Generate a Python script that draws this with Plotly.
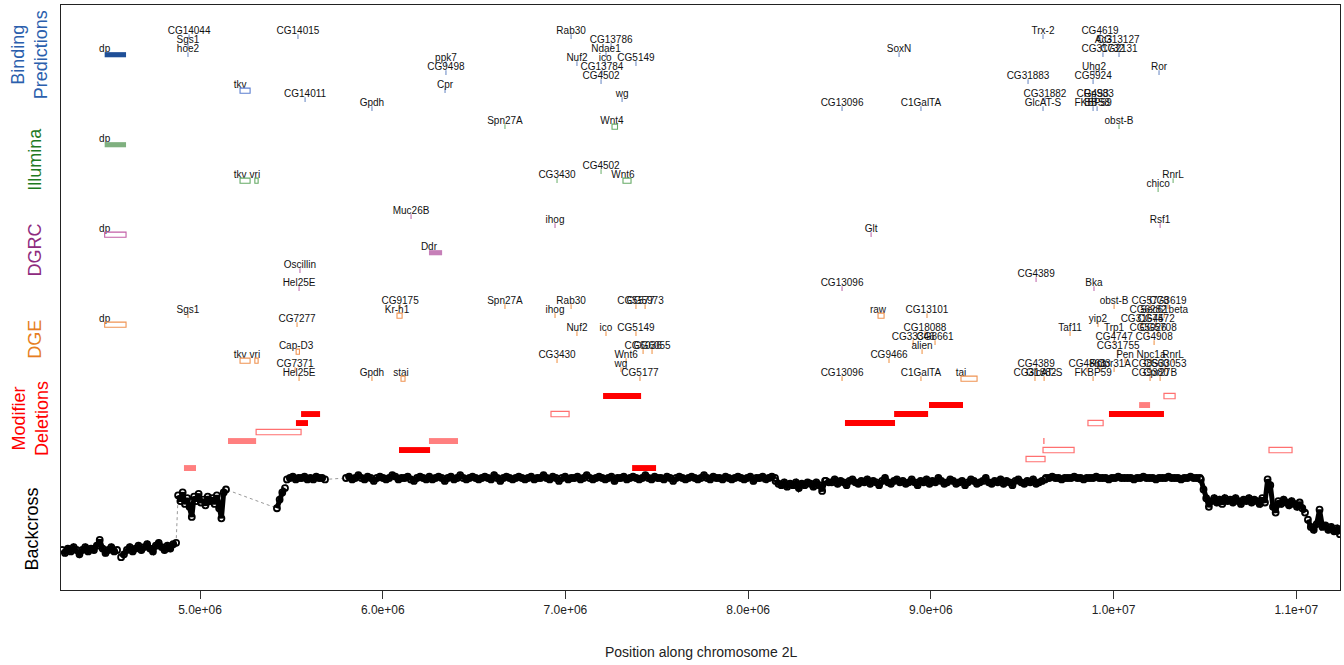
import numpy as np
import plotly.graph_objects as go

# ---------------- Binding Predictions (positions in Mb, row = label line) ----------------
bind_genes = ["dp", "CG14044", "Sgs1", "hoe2", "CG14015", "tkv", "CG14011", "Gpdh", "ppk7", "CG9498",
              "Cpr", "Rab30", "CG13786", "Ndae1", "Nuf2", "ico", "CG5149", "CG13784", "CG4502", "wg",
              "SoxN", "CG13096", "C1GalTA", "Trx-2", "CG4619", "Ac3", "CG13127", "CG31732", "CG2131",
              "Uhg2", "Ror", "CG31883", "CG5924", "CG31882", "CG4983", "RpS3", "GlcAT-S", "FKBP59", "BBS8"]
bind_start = [4.478, 4.940, 4.934, 4.934, 5.536, 5.219, 5.575, 5.941, 6.346, 6.346,
              6.341, 7.031, 7.250, 7.222, 7.063, 7.217, 7.386, 7.200, 7.195, 7.310,
              8.826, 8.514, 8.946, 9.614, 9.926, 9.945, 10.025, 9.942, 10.030,
              9.893, 10.249, 9.532, 9.888, 9.625, 9.899, 9.905, 9.614, 9.888, 9.910]
bind_end = [4.595, 4.940, 4.934, 4.934, 5.536, 5.274, 5.575, 5.941, 6.346, 6.346,
            6.341, 7.031, 7.250, 7.222, 7.063, 7.217, 7.386, 7.200, 7.195, 7.310,
            8.826, 8.514, 8.946, 9.614, 9.926, 9.945, 10.025, 9.942, 10.030,
            9.893, 10.249, 9.532, 9.888, 9.625, 9.899, 9.905, 9.614, 9.888, 9.910]
bind_row = [2, 0, 1, 2, 0, 6, 7, 8, 3, 4,
            6, 0, 1, 2, 3, 3, 3, 4, 5, 7,
            2, 8, 8, 0, 0, 1, 1, 2, 2,
            4, 4, 5, 5, 7, 7, 7, 8, 8, 8]
bind_style = ["f", "t", "t", "t", "t", "o", "t", "t", "t", "t",
              "t", "t", "t", "t", "t", "t", "t", "t", "t", "t",
              "t", "t", "t", "t", "t", "t", "t", "t", "t",
              "t", "t", "t", "t", "t", "t", "t", "t", "t", "t"]

# ---------------- Illumina ----------------
ill_genes = ["Spn27A", "Wnt4", "obst-B", "dp", "CG4502", "CG3430", "Wnt6", "tkv", "vri", "RnrL", "chico"]
ill_start = [6.669, 7.255, 10.030, 4.478, 7.195, 6.954, 7.315, 5.219, 5.300, 10.326, 10.244]
ill_end = [6.669, 7.285, 10.030, 4.595, 7.195, 6.954, 7.359, 5.274, 5.318, 10.326, 10.244]
ill_row = [10, 10, 10, 12, 15, 16, 16, 16, 16, 16, 17]
ill_style = ["t", "o", "t", "f", "t", "t", "o", "o", "o", "t", "t"]

# ---------------- DGRC ----------------
dgrc_genes = ["Muc26B", "ihog", "Rsf1", "dp", "Glt", "Ddr", "Oscillin", "CG4389", "Hel25E", "CG13096", "Bka"]
dgrc_start = [6.155, 6.943, 10.255, 4.478, 8.673, 6.253, 5.547, 9.576, 5.542, 8.514, 9.893]
dgrc_end = [6.155, 6.943, 10.255, 4.595, 8.673, 6.325, 5.547, 9.576, 5.542, 8.514, 9.893]
dgrc_row = [20, 21, 21, 22, 22, 24, 26, 27, 28, 28, 28]
dgrc_style = ["t", "t", "t", "o", "t", "f", "t", "t", "t", "t", "t"]

# ---------------- DGE ----------------
dge_genes = ["CG9175", "Spn27A", "Rab30", "CG5577", "CG5973", "obst-B", "CG5778", "CG3619",
             "Sgs1", "Kr-h1", "ihog", "raw", "CG13101", "CG6282", "Sec61beta",
             "dp", "CG7277", "yip2", "CG31674", "CG4572",
             "Nuf2", "ico", "CG5149", "CG18088", "Taf11", "Trp1", "CG5026", "CG5708",
             "CG33346", "CG8661", "CG4747", "CG4908",
             "Cap-D3", "CG6036", "CG6055", "alien", "CG31755",
             "tkv", "vri", "CG3430", "Wnt6", "CG9466", "Pen", "Npc1a", "RnrL",
             "CG7371", "wg", "CG4389", "CG4863", "Rpt3", "Cpr31A", "CG8560", "CG33053",
             "Hel25E", "Gpdh", "stai", "CG5177", "CG13096", "C1GalTA", "tai", "CG31882",
             "GlcAT-S", "FKBP59", "CG9380", "Cpr27B"]
dge_start = [6.095, 6.669, 7.031, 7.386, 7.436, 10.003, 10.200, 10.298,
             4.934, 6.078, 6.943, 8.711, 8.979, 10.189, 10.277,
             4.478, 5.531, 9.915, 10.156, 10.233,
             7.063, 7.222, 7.386, 8.968, 9.762, 10.003, 10.189, 10.244,
             8.903, 9.023, 10.003, 10.222,
             5.526, 7.425, 7.474, 8.952, 10.025,
             5.219, 5.300, 6.954, 7.332, 8.771, 10.063, 10.205, 10.326,
             5.520, 7.304, 9.576, 9.855, 9.926, 10.003, 10.200, 10.282,
             5.542, 5.941, 6.100, 7.408, 8.514, 8.946, 9.165, 9.570,
             9.620, 9.888, 10.200, 10.255]
dge_end = [6.095, 6.669, 7.031, 7.386, 7.436, 10.003, 10.200, 10.298,
           4.934, 6.106, 6.943, 8.744, 8.979, 10.189, 10.277,
           4.595, 5.531, 9.915, 10.156, 10.233,
           7.063, 7.222, 7.386, 8.968, 9.762, 10.003, 10.189, 10.244,
           8.903, 9.023, 10.003, 10.222,
           5.544, 7.425, 7.474, 8.952, 10.025,
           5.274, 5.318, 6.954, 7.332, 8.771, 10.063, 10.205, 10.326,
           5.520, 7.304, 9.576, 9.855, 9.926, 10.003, 10.200, 10.282,
           5.542, 5.941, 6.122, 7.408, 8.514, 8.946, 9.253, 9.570,
           9.620, 9.888, 10.200, 10.255]
dge_row = [30, 30, 30, 30, 30, 30, 30, 30,
           31, 31, 31, 31, 31, 31, 31,
           32, 32, 32, 32, 32,
           33, 33, 33, 33, 33, 33, 33, 33,
           34, 34, 34, 34,
           35, 35, 35, 35, 35,
           36, 36, 36, 36, 36, 36, 36, 36,
           37, 37, 37, 37, 37, 37, 37, 37,
           38, 38, 38, 38, 38, 38, 38, 38,
           38, 38, 38, 38]
dge_open = ["dp", "Kr-h1", "raw", "Cap-D3", "tkv", "vri", "stai", "tai"]

# ---------------- Modifier Deletions ----------------
del_start = [5.553, 5.525, 5.307, 5.153, 6.253, 6.089, 4.912, 7.206, 6.921, 7.365, 8.530,
             8.799, 8.990, 9.975, 10.140, 10.276, 9.860, 9.617, 9.614, 9.521, 10.851]
del_end = [5.657, 5.591, 5.553, 5.307, 6.412, 6.259, 4.978, 7.414, 7.020, 7.496, 8.804,
           8.985, 9.176, 10.276, 10.200, 10.337, 9.943, 9.621, 9.784, 9.625, 10.977]
del_level = [2, 3, 4, 5, 5, 6, 8, 0, 2, 8, 3, 2, 1, 2, 1, 0, 3, 5, 6, 7, 6]
del_style = ["red", "red", "open", "light", "light", "red", "light", "red", "open", "red", "red",
             "red", "red", "red", "light", "open", "open", "red", "open", "open", "open"]

# ---------------- Backcross (segments: start Mb, end Mb, values) ----------------
bc_seg_start = [4.245, 4.568, 4.880, 5.421, 5.476, 5.799, 8.150, 8.425, 9.630, 10.478, 11.064]
bc_seg_end = [4.546, 4.869, 5.142, 5.465, 5.684, 8.147, 8.421, 9.625, 10.473, 11.048, 11.239]
bc_A = [0.50, 0.48, 0.51, 0.49, 0.52, 0.50, 0.47, 0.50, 0.52, 0.49, 0.51, 0.50, 0.53, 0.57, 0.51, 0.48, 0.50, 0.52, 0.49, 0.50]
bc_B = [0.45, 0.47, 0.50, 0.52, 0.49, 0.51, 0.53, 0.50, 0.52, 0.54, 0.51, 0.49, 0.53, 0.55, 0.52, 0.50, 0.53, 0.51, 0.54, 0.55]
bc_C = [0.88, 0.84, 0.90, 0.82, 0.86, 0.80, 0.73, 0.87, 0.84, 0.89, 0.83, 0.85, 0.81, 0.87, 0.84, 0.86, 0.82, 0.88, 0.79, 0.72, 0.90, 0.92]
bc_D = [0.79, 0.85, 0.90, 0.93]
bc_E = [0.99, 1.00, 1.01, 0.99, 1.00, 1.00, 1.01, 0.99, 1.00, 0.99, 1.01, 1.00, 1.00, 0.99]
bc_F = [1.00, 1.01, 0.99, 1.00, 1.02, 1.00, 0.99, 1.01, 1.00, 0.98, 1.00, 1.01, 1.00, 0.99,
        1.00, 1.02, 1.01, 0.99, 1.00, 1.00, 1.01, 0.99, 0.98, 1.00, 1.01, 1.00, 0.99, 1.01,
        0.99, 1.00, 1.01, 1.00, 0.98, 1.00, 1.01, 0.99, 1.00, 1.02, 1.00, 0.99, 1.00, 1.01,
        1.00, 0.99, 1.00, 1.01, 1.00, 0.99, 1.02, 1.00, 0.98, 1.00, 1.01, 1.00, 0.99, 1.00,
        1.01, 1.00, 0.99, 1.00, 1.01, 0.99, 1.00, 1.00, 1.02, 1.00, 0.99, 1.01, 1.00, 0.98,
        1.00, 1.01, 0.99, 1.00, 1.00, 1.01, 0.99, 1.00, 1.02, 1.00, 0.99, 1.00, 1.01, 1.00,
        0.99, 1.00, 1.01, 0.98, 1.00, 1.00, 1.01, 0.99, 1.00, 1.01, 1.00, 0.99, 1.00, 1.02,
        1.00, 0.99, 1.01, 1.00, 1.00, 0.99, 1.01, 1.00, 0.98, 1.00, 1.01, 1.00, 0.99, 1.00,
        1.01, 1.00, 0.99, 1.00, 1.02, 1.00, 0.99, 1.01, 1.00, 1.00, 0.99, 1.01, 1.00, 0.99,
        1.00, 1.01, 1.00, 0.99, 1.00, 1.01, 0.98, 1.00, 1.00, 1.01, 0.99, 1.00, 1.01, 1.00]
bc_G = [0.98, 0.96, 0.95, 0.97, 0.94, 0.96, 0.95, 0.97, 0.93, 0.96, 0.95, 0.97, 0.96, 0.94, 0.97, 0.95, 0.91, 0.98]
bc_H = [0.98, 0.97, 0.97, 0.99, 0.96, 0.98, 0.97, 0.95, 0.98, 0.99, 0.97, 0.96, 0.98, 0.97, 0.99,
        0.96, 0.98, 0.97, 0.95, 0.98, 1.00, 0.97, 0.96, 0.98, 0.99, 0.97, 0.98, 0.96, 0.97, 0.99,
        0.97, 0.95, 0.98, 0.97, 0.99, 0.96, 0.98, 0.97, 1.00, 0.98, 0.96, 0.97, 0.99, 0.98, 0.96,
        0.97, 0.98, 0.95, 0.97, 0.99, 0.98, 0.96, 0.97, 0.98, 1.00, 0.97, 0.96, 0.98, 0.97, 0.99,
        0.96, 0.98, 0.97, 0.95, 0.98, 0.99, 0.97, 0.96, 0.98, 0.97, 0.99, 0.96, 0.97, 0.98, 0.99]
bc_I = [1.00, 1.00, 1.01, 1.00, 1.00, 0.99, 1.00, 1.00, 1.00, 1.01,
        1.00, 1.00, 0.99, 1.00, 1.00, 1.00, 1.01, 1.00, 1.00, 1.00,
        0.99, 1.00, 1.00, 1.01, 1.00, 1.00, 1.00, 1.00, 0.99, 1.00,
        1.00, 1.01, 1.00, 1.00, 1.00, 0.99, 1.00, 1.00, 1.00, 1.01,
        1.00, 1.00, 1.00, 0.99, 1.00, 1.00, 1.01, 1.00, 1.00, 1.00]
bc_J = [0.99, 0.92, 0.86, 0.80, 0.84, 0.86, 0.83, 0.85, 0.82, 0.86, 0.84, 0.85, 0.83, 0.86, 0.84, 0.82,
        0.85, 0.84, 0.86, 0.83, 0.85, 0.84, 0.82, 0.86, 0.83, 0.99, 0.95, 0.80, 0.76, 0.84, 0.82, 0.85,
        0.83, 0.81, 0.84, 0.82, 0.80, 0.83, 0.79, 0.76]
bc_K = [0.71, 0.66, 0.64, 0.68, 0.78, 0.66, 0.67, 0.64, 0.66, 0.63, 0.65, 0.61]
bc_vals = [bc_A, bc_B, bc_C, bc_D, bc_E, bc_F, bc_G, bc_H, bc_I, bc_J, bc_K]

# ---------------- Axis ----------------
tick_vals = [5.0e6, 6.0e6, 7.0e6, 8.0e6, 9.0e6, 1.0e7, 1.1e7]
tick_text = ["5.0e+06", "6.0e+06", "7.0e+06", "8.0e+06", "9.0e+06", "1.0e+07", "1.1e+07"]

# ---------------- Styles ----------------
FONT = "Liberation Sans, Arial, Helvetica, sans-serif"
MB = 1e6
tracks = [
    dict(g=bind_genes, s=bind_start, e=bind_end, r=bind_row, st=bind_style,
         tick="#7d98cc", open="#5c7fd0", fill="#1f4f97"),
    dict(g=ill_genes, s=ill_start, e=ill_end, r=ill_row, st=ill_style,
         tick="#80bb80", open="#66aa66", fill="#7fb07f"),
    dict(g=dgrc_genes, s=dgrc_start, e=dgrc_end, r=dgrc_row, st=dgrc_style,
         tick="#c77cb5", open="#c25ea6", fill="#c67fb8"),
    dict(g=dge_genes, s=dge_start, e=dge_end, r=dge_row,
         st=["o" if n in dge_open else "t" for n in dge_genes],
         tick="#f2a05c", open="#ef9352", fill="#ef9352"),
]

fig = go.Figure()
shapes = []

for tr in tracks:
    tx, ty = [], []
    for s, e, r, st in zip(tr["s"], tr["e"], tr["r"], tr["st"]):
        if st == "t":
            tx += [s * MB, s * MB, None]
            ty += [r + 0.35, r + 0.9, None]
        elif st == "o":
            shapes.append(dict(type="rect", xref="x", yref="y", x0=s * MB, x1=e * MB,
                               y0=r + 0.35, y1=r + 0.92, fillcolor="rgba(0,0,0,0)",
                               line=dict(color=tr["open"], width=1.1), layer="above"))
        else:
            shapes.append(dict(type="rect", xref="x", yref="y", x0=s * MB, x1=e * MB,
                               y0=r + 0.35, y1=r + 0.92, fillcolor=tr["fill"],
                               line=dict(width=0), layer="above"))
    fig.add_trace(go.Scatter(x=tx, y=ty, mode="lines", line=dict(color=tr["tick"], width=1.2),
                             hoverinfo="skip", showlegend=False))
    fig.add_trace(go.Scatter(x=[s * MB for s in tr["s"]], y=tr["r"], mode="text", text=tr["g"],
                             textposition="middle center",
                             textfont=dict(family=FONT, size=10, color="#111111"),
                             hoverinfo="skip", showlegend=False))

# Modifier deletions
DEL_BASE_ROW = 40.56
del_colors = {"red": "#ff0000", "light": "#ff7f7f"}
for s, e, lv, st in zip(del_start, del_end, del_level, del_style):
    yc = DEL_BASE_ROW + lv
    if st == "open":
        shapes.append(dict(type="rect", xref="x", yref="y", x0=s * MB, x1=e * MB,
                           y0=yc - 0.3, y1=yc + 0.3, fillcolor="rgba(0,0,0,0)",
                           line=dict(color="#ff7070", width=1.2)))
    else:
        shapes.append(dict(type="rect", xref="x", yref="y", x0=s * MB, x1=e * MB,
                           y0=yc - 0.33, y1=yc + 0.33, fillcolor=del_colors[st],
                           line=dict(width=0)))

# Backcross
bx, by = [], []          # full series (dotted connector)
sx, sy = [], []          # dense runs (solid band)
for s, e, vals in zip(bc_seg_start, bc_seg_end, bc_vals):
    xs = list(np.linspace(s, e, len(vals)) * MB)
    bx += xs
    by += list(vals)
    sx += xs + [None]
    sy += list(vals) + [None]
fig.add_trace(go.Scatter(x=bx, y=by, yaxis="y2", mode="lines",
                         line=dict(color="#999999", width=1, dash="dot"),
                         hoverinfo="skip", showlegend=False))
fig.add_trace(go.Scatter(x=sx, y=sy, yaxis="y2", mode="lines",
                         line=dict(color="black", width=5),
                         hoverinfo="skip", showlegend=False))
fig.add_trace(go.Scatter(x=bx, y=by, yaxis="y2", mode="markers",
                         marker=dict(symbol="circle-open", size=6, color="black",
                                     line=dict(width=1.8, color="black")),
                         hoverinfo="skip", showlegend=False))

# Group labels (left side, rotated)
L, W = 61, 1279
groups = [("Binding<br>Predictions", "#2b5fad", 29, 2.7),
          ("Illumina", "#1f7a1f", 35, 14.3),
          ("DGRC", "#8e2a7e", 35, 24.4),
          ("DGE", "#e67e22", 35, 34.3),
          ("Modifier<br>Deletions", "#ff0000", 30, 43.0),
          ("Backcross", "#000000", 32, 55.4)]
annotations = []
for txt, col, px, row in groups:
    annotations.append(dict(text=txt, xref="paper", yref="y", x=(px - L) / W, y=row,
                            textangle=-90, showarrow=False, xanchor="center", yanchor="middle",
                            font=dict(family=FONT, size=18, color=col), align="center"))
annotations.append(dict(text="Position along chromosome 2L", xref="paper", yref="paper",
                        x=0.5, y=-0.106, showarrow=False, xanchor="center", yanchor="middle",
                        font=dict(family=FONT, size=14, color="#222222")))

fig.update_layout(
    width=1344, height=665,
    margin=dict(l=61, r=4, t=5, b=75),
    plot_bgcolor="white", paper_bgcolor="white",
    showlegend=False,
    shapes=shapes,
    annotations=annotations,
    xaxis=dict(range=[4.239e6, 11.2395e6], tickvals=tick_vals, ticktext=tick_text,
               ticks="outside", ticklen=8, tickcolor="#333333", tickwidth=1,
               showline=True, mirror=True, linecolor="#222222", linewidth=1.2,
               showgrid=False, zeroline=False,
               tickfont=dict(family=FONT, size=12, color="#222222")),
    yaxis=dict(range=[62.11, -2.889], showticklabels=False, ticks="",
               showline=True, mirror=True, linecolor="#222222", linewidth=1.2,
               showgrid=False, zeroline=False),
    yaxis2=dict(range=[0.2222, 4.2847], overlaying="y", visible=False,
                showgrid=False, zeroline=False),
)

fig.write_html("out.html", config={"displayModeBar": False},
               post_script="document.body.style.margin='0px';")
